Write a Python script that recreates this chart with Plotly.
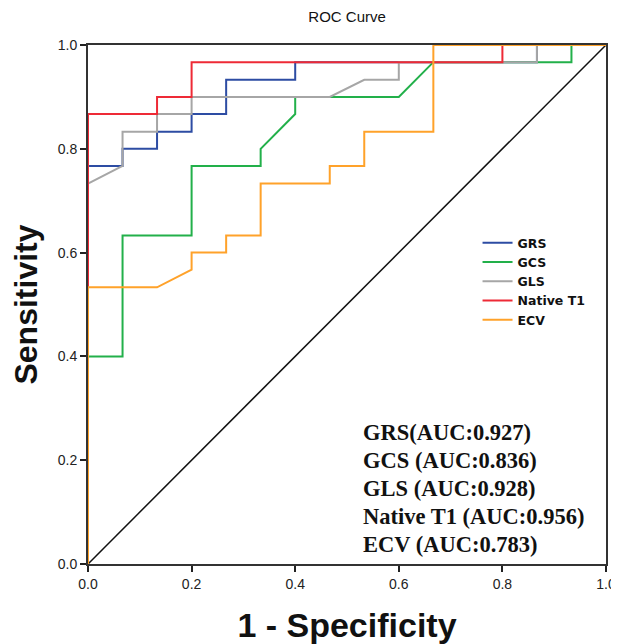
import plotly.graph_objects as go

# ---- data ----
grs_fpr = [0, 0, 0.0667, 0.0667, 0.1333, 0.1333, 0.2, 0.2, 0.2667, 0.2667, 0.4, 0.4, 0.8667, 0.8667, 1]
grs_tpr = [0, 0.767, 0.767, 0.8, 0.8, 0.833, 0.833, 0.867, 0.867, 0.933, 0.933, 0.967, 0.967, 1, 1]

gcs_fpr = [0, 0, 0.0667, 0.0667, 0.2, 0.2, 0.3333, 0.3333, 0.4, 0.4, 0.6, 0.6667, 0.9333, 0.9333, 1]
gcs_tpr = [0, 0.4, 0.4, 0.633, 0.633, 0.767, 0.767, 0.8, 0.867, 0.9, 0.9, 0.967, 0.967, 1, 1]

gls_fpr = [0, 0, 0.0667, 0.0667, 0.1333, 0.1333, 0.2, 0.2, 0.4667, 0.5333, 0.6, 0.6, 0.8667, 0.8667, 1]
gls_tpr = [0, 0.733, 0.767, 0.833, 0.833, 0.867, 0.867, 0.9, 0.9, 0.933, 0.933, 0.967, 0.967, 1, 1]

t1_fpr = [0, 0, 0.1333, 0.1333, 0.2, 0.2, 0.8, 0.8, 1]
t1_tpr = [0, 0.867, 0.867, 0.9, 0.9, 0.967, 0.967, 1, 1]

ecv_fpr = [0, 0, 0.1333, 0.2, 0.2, 0.2667, 0.2667, 0.3333, 0.3333, 0.4667, 0.4667, 0.5333, 0.5333, 0.6667, 0.6667, 1]
ecv_tpr = [0, 0.533, 0.533, 0.567, 0.6, 0.6, 0.633, 0.633, 0.733, 0.733, 0.767, 0.767, 0.833, 0.833, 1, 1]

ref_x = [0, 1]
ref_y = [0, 1]

series_names = ["GRS", "GCS", "GLS", "Native T1", "ECV"]
series_colors = ["#2d4ca3", "#22b04a", "#a6a6a6", "#ee2a36", "#ffa22a"]
auc_labels = ["GRS(AUC:0.927)", "GCS (AUC:0.836)", "GLS (AUC:0.928)",
              "Native T1 (AUC:0.956)", "ECV (AUC:0.783)"]

tick_vals = [0.0, 0.2, 0.4, 0.6, 0.8, 1.0]
tick_text = ["0.0", "0.2", "0.4", "0.6", "0.8", "1.0"]

series_x = [grs_fpr, gcs_fpr, gls_fpr, t1_fpr, ecv_fpr]
series_y = [grs_tpr, gcs_tpr, gls_tpr, t1_tpr, ecv_tpr]

fig = go.Figure()
fig.add_trace(go.Scatter(x=ref_x, y=ref_y, mode="lines",
                         line=dict(color="#111111", width=1.5),
                         showlegend=False, hoverinfo="skip"))
for name, col, xs, ys in zip(series_names, series_colors, series_x, series_y):
    fig.add_trace(go.Scatter(x=xs, y=ys, mode="lines", name=name,
                             line=dict(color=col, width=2)))

axis_common = dict(
    range=[0, 1], tickvals=tick_vals, ticktext=tick_text,
    showgrid=False, zeroline=False, showline=True, mirror=True,
    linecolor="#333333", linewidth=2, ticks="outside", ticklen=6,
    tickwidth=1.5, tickcolor="#222222",
    tickfont=dict(family="Liberation Sans, Arial", size=14, color="#222222"),
)

# the page body has an 8px margin, so the figure is sized/placed accordingly
fig.update_layout(
    width=611, height=636,
    margin=dict(l=79.5, r=13, t=36.5, b=79.5, autoexpand=False),
    paper_bgcolor="white", plot_bgcolor="white",
    title=dict(text="ROC Curve", x=0.555, xanchor="center", y=0.995, yanchor="top",
               font=dict(family="Liberation Sans, Arial", size=15, color="#111111")),
    xaxis=dict(**axis_common,
               title=dict(text="1 - Specificity", standoff=29,
                          font=dict(family="Liberation Sans, Arial", size=34,
                                    color="#111111", weight="bold"))),
    yaxis=dict(**axis_common,
               title=dict(text="Sensitivity", standoff=11,
                          font=dict(family="Liberation Sans, Arial", size=32,
                                    color="#111111", weight="bold"))),
    legend=dict(x=0.752, y=0.647, xanchor="left", yanchor="top",
                bgcolor="rgba(0,0,0,0)", borderwidth=0,
                font=dict(family="DejaVu Sans", size=12.5,
                          color="#111111", weight="bold"),
                tracegroupgap=0, itemwidth=30),
)

for i, lab in enumerate(auc_labels):
    fig.add_annotation(x=0.527, xref="x domain", y=0.253 - i * 0.0538,
                       yref="y domain", text=lab, showarrow=False,
                       xanchor="left", yanchor="middle",
                       font=dict(family="Liberation Serif, Times New Roman", size=22.5,
                                 color="#111111", weight="bold"))

fig.write_html("out.html")
